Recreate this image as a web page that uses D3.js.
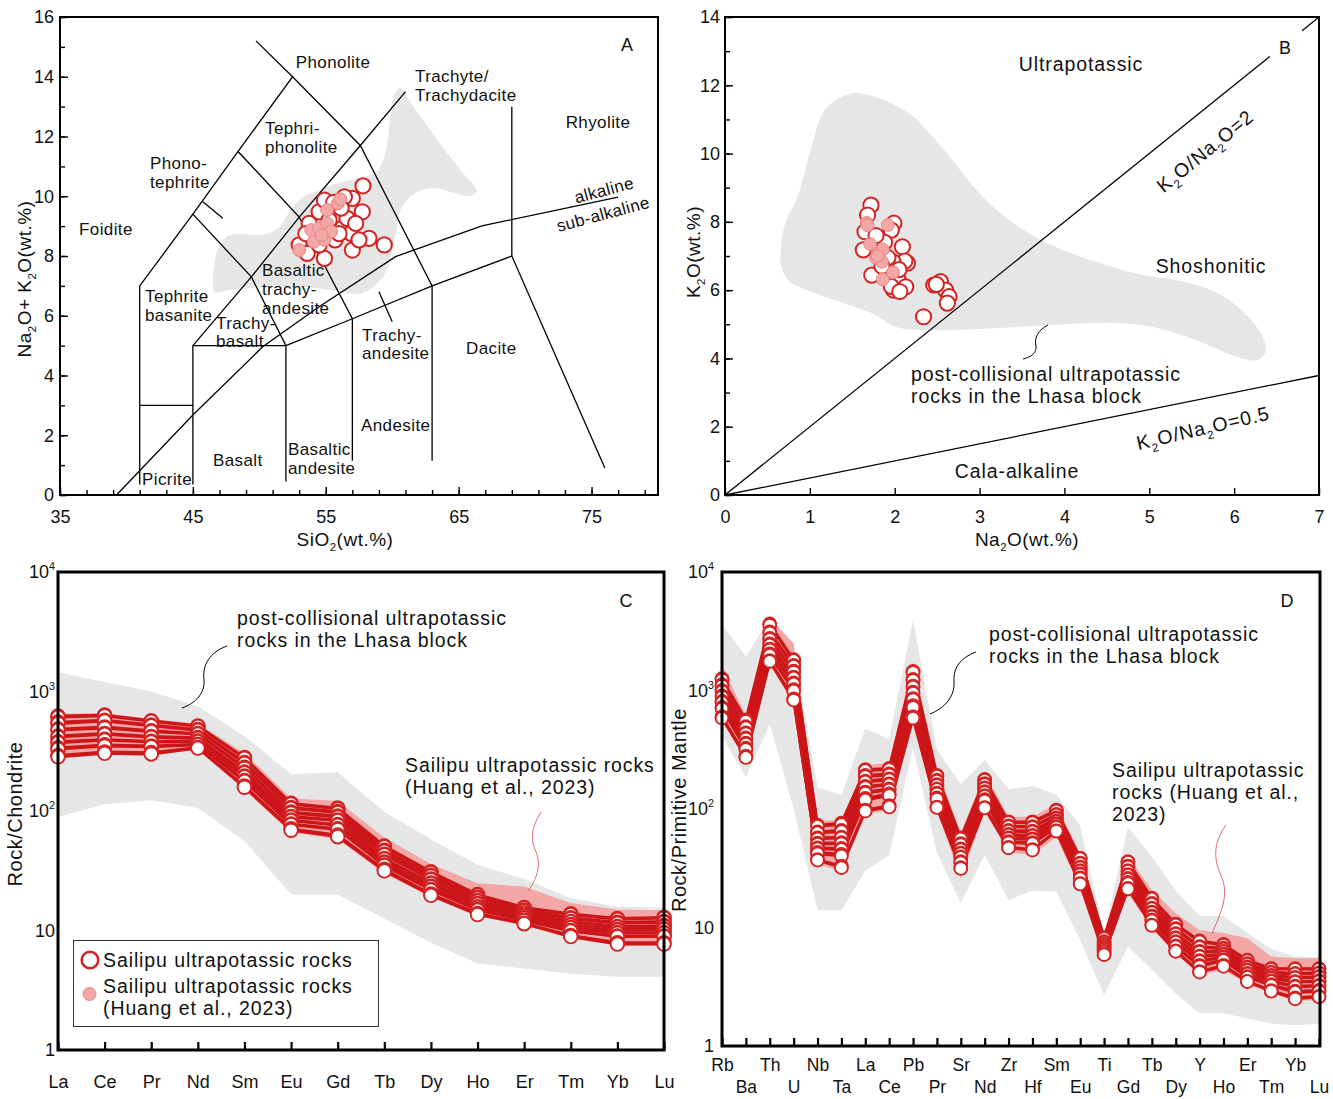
<!DOCTYPE html>
<html>
<head>
<meta charset="utf-8">
<script src="https://cdn.jsdelivr.net/npm/d3@7"></script>
<style>
  body { margin: 0; background: #fff; }
  svg text { font-family: "Liberation Sans", Arial, sans-serif; fill: #111; }
</style>
</head>
<body>
<svg id="fig" width="1333" height="1099"></svg>
<script>
// ---------------- data ----------------
// A: TAS, [SiO2, Na2O+K2O]
const tasSamples = [[57.8,10.35],[57.0,9.93],[56.4,9.98],[57.75,9.48],[54.5,9.48],[53.75,9.09],[53.25,8.26],[53.0,8.37],
  [53.6,8.09],[54.9,7.92],[56.25,8.93],[56.9,8.76],[57.0,8.2],[58.25,8.59],[59.4,8.37],[56.6,9.26],[57.25,9.09],
  [55.25,9.2],[55.7,8.54],[54.2,8.67],[56.15,9.6],[54.9,9.87],[55.6,9.8],[57.5,8.54],[54.5,8.37],[56.0,8.75],[53.5,8.75]];
const tasHuang = [[55.9,9.76],[55.1,9.54],[53.9,8.87],[54.5,8.93],[55.1,9.09],[54.1,8.48],[54.9,8.54],[53.0,8.2],
  [55.4,8.82],[54.7,8.7],[56.1,9.9]];
const tasField = [[60.58,13.62],[61.56,13.02],[62.84,12.22],[64.12,11.45],[65.32,10.78],[66.38,10.18],[65.85,10.01],
  [64.72,10.11],[63.07,10.28],[61.71,10.11],[60.73,9.64],[60.28,8.77],[59.9,7.97],[59.45,7.4],[58.47,6.93],[57.57,6.73],
  [56.07,6.8],[53.81,6.95],[51.93,6.95],[49.67,6.93],[47.79,6.86],[46.66,6.8],[46.51,7.2],[46.66,7.87],[47.04,8.4],
  [47.64,8.67],[48.54,8.74],[49.67,8.7],[50.65,8.75],[51.55,9.0],[52.3,9.5],[53.2,9.95],[54.56,10.21],[55.92,10.44],
  [57.57,10.61],[58.93,10.88],[59.53,11.55],[59.83,12.55],[60.13,13.36]];
const tasLines = [
  [[41,0.35],[41,7],[45,9.4],[48.4,11.5],[52.5,14],[57.6,11.7],[63,7],[63,1.15]],
  [[41,3],[45,3]],
  [[45,0.35],[45,5],[52,5],[52,0.45]],
  [[45,5],[49.4,7.3],[53,9.3],[57.6,11.7],[61,13.5]],
  [[49.4,7.3],[52,5]],
  [[45,9.4],[49.4,7.3]],
  [[48.4,11.5],[53,9.3],[57,5.9],[57,1.15]],
  [[52,5],[57,5.9],[63,7],[69,8],[76,0.9]],
  [[69,8],[69,13]],
  [[52.5,14],[49.75,15.2]],
  [[45.75,9.82],[47.25,9.26]],
  [[59.0,6.8],[60.0,5.8]]
];
const alkLine = [[39.25,0],[45,2.68],[50.25,4.96],[54.5,6.3],[60.25,7.98],[66.75,9.01],[77,9.97]];

// B: [Na2O, K2O]
const kSamples = [[1.72,8.49],[1.68,8.2],[1.65,7.71],[1.63,7.18],[1.73,6.44],[1.99,7.96],[1.96,7.76],[1.81,7.3],
  [1.88,7.4],[2.09,7.27],[2.15,6.79],[2.12,6.85],[1.98,6.83],[2.04,6.3],[2.13,6.1],[1.99,6.0],[1.96,6.11],[2.06,5.96],
  [2.46,6.15],[2.54,6.25],[2.6,6.0],[2.64,5.81],[2.62,5.62],[2.34,5.22],[1.78,7.6],[1.92,6.95],[2.05,6.6],[1.85,6.7],[2.49,6.17]];
const kHuang = [[1.67,7.97],[1.71,7.35],[1.78,6.94],[1.81,7.09],[1.86,7.19],[1.85,6.83],[1.92,7.91],[1.86,6.32],
  [1.98,6.52],[1.68,7.9],[1.8,7.0]];
const kField = [[0.655,7.09],[0.705,7.91],[0.856,8.74],[1.006,10.07],[1.157,11.21],[1.307,11.57],[1.508,11.77],
  [1.759,11.67],[2.01,11.41],[2.21,11.1],[2.41,10.59],[2.66,9.87],[2.96,8.94],[3.26,8.22],[3.62,7.61],[3.97,7.19],
  [4.37,6.83],[4.87,6.47],[5.37,6.27],[5.77,5.96],[6.07,5.45],[6.32,4.72],[6.37,4.21],[6.27,3.95],[6.02,4.06],
  [5.62,4.47],[5.12,4.88],[4.62,5.04],[3.87,4.98],[3.11,4.88],[2.36,4.83],[2.01,4.93],[1.76,5.29],[1.36,5.65],
  [1.006,5.96],[0.755,6.27],[0.666,6.68]];

// C: chondrite-normalised REE
const reeElems = ["La","Ce","Pr","Nd","Sm","Eu","Gd","Tb","Dy","Ho","Er","Tm","Yb","Lu"];
const reeSamples = [
  [625,635,570,515,280,116,106,51,31,20,15.6,13.8,12.6,12.9],
  [610,625,562,510,276,114,104,50,30.5,19.8,15.4,13.6,12.4,12.7],
  [555,575,525,480,255,107,99,47,29,19,14.8,12.8,11.7,11.9],
  [540,565,515,472,250,105,97,46,28.5,18.7,14.6,12.6,11.5,11.7],
  [485,505,470,445,232,98,91,43.5,27,17.8,14,11.9,10.8,11],
  [475,495,462,440,228,96,89,43,26.6,17.6,13.9,11.8,10.7,10.8],
  [425,445,420,412,212,90,84,40,25,16.8,13.4,11.2,10.2,10.3],
  [415,438,414,406,209,89,83,39.5,24.7,16.6,13.3,11.1,10.1,10.2],
  [380,398,383,386,196,84,77,37.5,23.5,15.8,12.8,10.6,9.6,9.6],
  [372,392,377,381,193,83,76,37,23.2,15.6,12.7,10.5,9.5,9.5],
  [338,358,350,362,180,78,71,35.3,22,15,12.2,10,9,9],
  [330,350,344,358,177,77,70,35,21.8,14.8,12.1,9.9,8.9,8.9],
  [292,312,308,340,162,71,63,32.5,20.2,13.9,11.5,9.1,7.9,7.9],
  [284,304,300,336,158,69,61,31.6,19.7,13.6,11.4,8.9,7.7,7.7]
];
const reeHuangHi = [650,660,590,540,305,128,121,60,36,24.9,23.3,17,15,14.8];
const reeHuangLo = [275,295,290,330,150,66,58,30,19,13.2,11,8.6,7.5,7.5];
const reeLhasaHi = [1450,1200,1000,750,425,203,211,98,58,35.5,27,18.7,15.8,15.5];
const reeLhasaLo = [89,114,123,106,56,20,20,12.6,7.9,5.3,4.8,4.35,4.1,4.1];

// D: primitive-mantle-normalised trace elements
const spiderElems = ["Rb","Ba","Th","U","Nb","Ta","La","Ce","Pb","Pr","Sr","Nd","Zr","Hf","Sm","Eu","Ti","Gd","Tb","Dy","Y","Ho","Er","Tm","Yb","Lu"];
const spiderSamples = [
  [1260,565,3650,1820,73,76,215,220,1450,192,57,178,78,78,98,38.5,8.2,36,17.7,10.7,7.7,7.2,5.3,4.5,4.5,4.5],
  [1230,552,3560,1790,71.5,74,211,216,1420,189,56,175,77,76.5,96.5,38,8.1,35.5,17.4,10.5,7.6,7.1,5.25,4.45,4.45,4.45],
  [1120,495,3120,1630,64,66,192,198,1240,175,51,164,72,71,90,35,7.6,33,16,9.8,6.9,6.7,4.95,4.2,4.1,4.15],
  [1095,485,3060,1600,63,64.5,188,194,1215,172,50,161,71,70,89,34.5,7.5,32.5,15.7,9.65,6.8,6.6,4.9,4.15,4.05,4.1],
  [1000,440,2750,1460,57,58,172,180,1090,161,46,151,66,65,84,32.3,7.2,30.2,14.6,8.9,6.3,6.3,4.65,3.95,3.8,3.85],
  [978,432,2700,1430,56,57,169,177,1070,158,45.3,149,65,64,83,31.9,7.15,29.8,14.4,8.8,6.2,6.25,4.6,3.9,3.75,3.8],
  [900,398,2470,1300,51.5,52,155,163,970,148,42.5,140,61,60,79,30.2,6.9,28,13.5,8.2,5.75,5.95,4.4,3.75,3.5,3.55],
  [880,390,2420,1275,50.5,51,152,160,950,146,42,138,60.3,59.2,78,29.8,6.85,27.6,13.3,8.1,5.68,5.9,4.35,3.72,3.46,3.5],
  [810,360,2240,1160,47,46.5,139,148,855,136,39.5,130,57,56,75,28.3,6.6,26,12.5,7.6,5.25,5.65,4.1,3.55,3.2,3.25],
  [792,353,2200,1135,46.2,45.5,136,145,836,134,39,128,56.3,55.2,74.2,27.9,6.55,25.6,12.3,7.5,5.18,5.6,4.06,3.5,3.15,3.2],
  [720,326,2040,1020,43,41.5,123,134,745,124,36,120,53,52,71,26.3,6.3,24,11.6,7.0,4.8,5.35,3.85,3.3,2.9,2.95],
  [700,318,1990,990,42,40.2,119,130,720,121,35.3,117,52,51,70,25.8,6.22,23.5,11.4,6.88,4.7,5.28,3.8,3.25,2.84,2.88],
  [600,280,1790,850,37.5,33,98,107,600,104,32,103,47.5,45.5,65.5,23.5,5.95,21.4,10.5,6.35,4.25,4.8,3.52,2.93,2.55,2.63],
  [585,272,1760,830,37,32,96,104,585,103,31.5,102,47,45,65,23.3,5.9,21.2,10.4,6.3,4.2,4.7,3.5,2.9,2.5,2.6]
];
const spiderHuangHi = [1650,610,4100,2500,80,80,235,245,1750,225,62,200,86,86,110,42,8.7,40,20.7,13.2,9.5,9.0,8.1,5.7,5.5,5.5];
const spiderHuangLo = [560,260,1650,780,34,30,90,98,560,98,25.6,95,43,41,58,21.5,5.6,19.5,9.8,6.0,4.0,4.4,3.3,2.8,2.4,2.45];
const spiderLhasaHi = [3600,1940,4060,2200,152,132,475,390,3950,317,162,260,147,156,132,72.7,9,70,39.5,20.5,12.5,12.5,9,6.6,5.7,5.6];
const spiderLhasaLo = [410,186,520,100,14,14,30,41,330,42.5,16.1,41,17.1,20.4,20,7.85,2.7,6.9,4.4,2.78,1.89,1.89,1.71,1.55,1.5,1.55];

// ---------------- styles ----------------
const RED = "#d42222", LINE_RED = "#cc1619", PINK = "#f4a7a7", PINK_EDGE = "#e78484", GRAY = "#e6e6e6";

const svg = d3.select("#fig");

// text with sub/superscripts; y is the visual centre line
function rich(g, x, y, parts, o = {}) {
  const size = o.size || 17;
  const t = g.append("text")
    .attr("x", x).attr("y", y + 0.35 * size)
    .attr("font-size", size)
    .attr("text-anchor", o.anchor || "start");
  if (o.spacing) t.attr("letter-spacing", o.spacing);
  if (o.rotate) t.attr("transform", `rotate(${o.rotate},${x},${y})`);
  let shift = 0;
  parts.forEach(p => {
    if (typeof p === "string") {
      t.append("tspan").attr("dy", -shift).text(p);
      shift = 0;
    } else if (p.sub) {
      t.append("tspan").attr("font-size", size * 0.6).attr("dy", size * 0.28).text(p.sub);
      shift = size * 0.28;
    } else if (p.sup) {
      t.append("tspan").attr("font-size", size * 0.6).attr("dy", -size * 0.45).text(p.sup);
      shift = -size * 0.45;
    }
  });
  return t;
}

function cleanAxis(g, size) {
  g.select(".domain").remove();
  g.attr("font-size", size || 18);
  g.selectAll(".tick line").attr("stroke-width", 1.4);
}

// ================= Panel A =================
const xA = d3.scaleLinear().domain([35, 80]).range([60, 658]);
const yA = d3.scaleLinear().domain([0, 16]).range([495, 17]);
const gA = svg.append("g");
const lineA = d3.line().x(d => xA(d[0])).y(d => yA(d[1]));

gA.append("path").datum(tasField)
  .attr("d", lineA.curve(d3.curveCatmullRomClosed.alpha(0.5)))
  .attr("fill", GRAY);
lineA.curve(d3.curveLinear);

tasLines.concat([alkLine]).forEach(l => {
  gA.append("path").datum(l).attr("d", lineA)
    .attr("fill", "none").attr("stroke", "#000").attr("stroke-width", 1.3);
});

const aLabels = [
  ["Phonolite", 333, 62, "middle"], ["Trachyte/", 415, 76], ["Trachydacite", 415, 95],
  ["Rhyolite", 598, 122, "middle"], ["Tephri-", 265, 128], ["phonolite", 265, 147],
  ["Phono-", 150, 163], ["tephrite", 150, 182], ["Foidite", 79, 229],
  ["Tephrite", 145, 296], ["basanite", 145, 315],
  ["Basaltic", 262, 270], ["trachy-", 262, 289], ["andesite", 262, 308],
  ["Trachy-", 216, 323], ["basalt", 216, 341],
  ["Trachy-", 362, 335], ["andesite", 362, 353],
  ["Dacite", 466, 348], ["Andesite", 361, 425],
  ["Basaltic", 288, 449], ["andesite", 288, 468],
  ["Basalt", 213, 460], ["Picrite", 142, 479]
];
aLabels.forEach(([s, x, y, a]) => rich(gA, x, y, [s], { size: 17, anchor: a || "start", spacing: 0.4 }));
rich(gA, 604, 190, ["alkaline"], { size: 17, anchor: "middle", rotate: -15, spacing: 0.4 });
rich(gA, 603, 214, ["sub-alkaline"], { size: 17, anchor: "middle", rotate: -15, spacing: 0.4 });
rich(gA, 627, 45, ["A"], { size: 18, anchor: "middle" });

gA.selectAll("circle.s").data(tasSamples).join("circle")
  .attr("cx", d => xA(d[0])).attr("cy", d => yA(d[1])).attr("r", 7.6)
  .attr("fill", "#fff").attr("stroke", RED).attr("stroke-width", 2);
gA.selectAll("circle.h").data(tasHuang).join("circle")
  .attr("cx", d => xA(d[0])).attr("cy", d => yA(d[1])).attr("r", 6.4)
  .attr("fill", PINK).attr("stroke", PINK_EDGE).attr("stroke-width", 1);

gA.append("rect").attr("x", 60).attr("y", 17).attr("width", 598).attr("height", 478)
  .attr("fill", "none").attr("stroke", "#000").attr("stroke-width", 2);
gA.append("g").attr("transform", "translate(0,495)")
  .call(d3.axisBottom(xA).tickValues(d3.range(35, 80, 2)).tickSize(-5).tickFormat(""))
  .call(g => cleanAxis(g));
gA.append("g").attr("transform", "translate(0,495)")
  .call(d3.axisBottom(xA).tickValues([35, 45, 55, 65, 75]).tickSize(-8).tickPadding(15))
  .call(g => cleanAxis(g));
gA.append("g").attr("transform", "translate(60,0)")
  .call(d3.axisLeft(yA).tickValues(d3.range(0, 17, 1)).tickSize(-5).tickFormat(""))
  .call(g => cleanAxis(g));
gA.append("g").attr("transform", "translate(60,0)")
  .call(d3.axisLeft(yA).tickValues(d3.range(0, 17, 2)).tickSize(-8).tickPadding(6))
  .call(g => cleanAxis(g));
rich(gA, 345, 539, ["SiO", { sub: "2" }, "(wt.%)"], { size: 19, anchor: "middle", spacing: 0.5 });
rich(gA, 24, 279, ["Na", { sub: "2" }, "O+ K", { sub: "2" }, "O(wt.%)"], { size: 19, anchor: "middle", rotate: -90, spacing: 0.5 });

// ================= Panel B =================
const xB = d3.scaleLinear().domain([0, 7]).range([725, 1319]);
const yB = d3.scaleLinear().domain([0, 14]).range([495, 17]);
const gB = svg.append("g");
const lineB = d3.line().x(d => xB(d[0])).y(d => yB(d[1]));

gB.append("path").datum(kField)
  .attr("d", d3.line().x(d => xB(d[0])).y(d => yB(d[1])).curve(d3.curveCatmullRomClosed.alpha(0.5)))
  .attr("fill", GRAY);
[[[0, 0], [6.42, 12.84]], [[6.8, 13.6], [7, 14]], [[0, 0], [7, 3.5]]].forEach(l => {
  gB.append("path").datum(l).attr("d", lineB)
    .attr("fill", "none").attr("stroke", "#000").attr("stroke-width", 1.3);
});

const bOpt = { size: 19.5, spacing: 0.9 };
rich(gB, 1081, 64, ["Ultrapotassic"], { ...bOpt, anchor: "middle" });
rich(gB, 1211, 266, ["Shoshonitic"], { ...bOpt, anchor: "middle" });
rich(gB, 1017, 471, ["Cala-alkaline"], { ...bOpt, anchor: "middle" });
rich(gB, 911, 374, ["post-collisional ultrapotassic"], bOpt);
rich(gB, 911, 396, ["rocks in the Lhasa block"], bOpt);
rich(gB, 1205, 151, ["K", { sub: "2" }, "O/Na", { sub: "2" }, "O=2"], { ...bOpt, anchor: "middle", rotate: -39 });
rich(gB, 1203, 428, ["K", { sub: "2" }, "O/Na", { sub: "2" }, "O=0.5"], { ...bOpt, anchor: "middle", rotate: -13 });
rich(gB, 1285, 48, ["B"], { size: 18, anchor: "middle" });
gB.append("path")
  .attr("d", "M1048,325 C1038,330 1034,338 1036,346 C1037,353 1031,357 1023,359")
  .attr("fill", "none").attr("stroke", "#000").attr("stroke-width", 1);

gB.selectAll("circle.s").data(kSamples).join("circle")
  .attr("cx", d => xB(d[0])).attr("cy", d => yB(d[1])).attr("r", 7.6)
  .attr("fill", "#fff").attr("stroke", RED).attr("stroke-width", 2);
gB.selectAll("circle.h").data(kHuang).join("circle")
  .attr("cx", d => xB(d[0])).attr("cy", d => yB(d[1])).attr("r", 6.4)
  .attr("fill", PINK).attr("stroke", PINK_EDGE).attr("stroke-width", 1);

gB.append("rect").attr("x", 725).attr("y", 17).attr("width", 594).attr("height", 478)
  .attr("fill", "none").attr("stroke", "#000").attr("stroke-width", 2);
gB.append("g").attr("transform", "translate(0,495)")
  .call(d3.axisBottom(xB).tickValues(d3.range(0, 8)).tickFormat(d3.format("d")).tickSize(-7).tickPadding(15))
  .call(g => cleanAxis(g));
gB.append("g").attr("transform", "translate(725,0)")
  .call(d3.axisLeft(yB).tickValues(d3.range(0, 15, 1)).tickSize(-5).tickFormat(""))
  .call(g => cleanAxis(g));
gB.append("g").attr("transform", "translate(725,0)")
  .call(d3.axisLeft(yB).tickValues(d3.range(0, 15, 2)).tickFormat(d3.format("d")).tickSize(-8).tickPadding(5))
  .call(g => cleanAxis(g));
rich(gB, 1027, 539, ["Na", { sub: "2" }, "O(wt.%)"], { size: 19, anchor: "middle", spacing: 0.5 });
rich(gB, 693, 252, ["K", { sub: "2" }, "O(wt.%)"], { size: 19, anchor: "middle", rotate: -90, spacing: 0.5 });

// ================= spider helper (C, D) =================
function spiderPanel(g, elems, samples, huangHi, huangLo, lhasaHi, lhasaLo, x, y, r) {
  const area = d3.area().x((d, i) => x(elems[i]));
  g.append("path").datum(lhasaHi.map((v, i) => [lhasaLo[i], v]))
    .attr("d", area.y0(d => y(d[0])).y1(d => y(d[1]))).attr("fill", GRAY);
  g.append("path").datum(huangHi.map((v, i) => [huangLo[i], v]))
    .attr("d", area.y0(d => y(d[0])).y1(d => y(d[1]))).attr("fill", PINK);
  const line = d3.line().x((d, i) => x(elems[i])).y(d => y(d));
  g.selectAll("path.smp").data(samples).join("path").attr("class", "smp")
    .attr("d", line).attr("fill", "none").attr("stroke", LINE_RED).attr("stroke-width", 2.8);
  samples.forEach(s => {
    g.append("g").selectAll("circle").data(s).join("circle")
      .attr("cx", (d, i) => x(elems[i])).attr("cy", d => y(d)).attr("r", r)
      .attr("fill", "#fff").attr("stroke", RED).attr("stroke-width", 1.9);
  });
}

function decadeLabels(g, y, xRight) {
  [[1, "1"], [10, "10"], [100, "10", "2"], [1000, "10", "3"], [10000, "10", "4"]].forEach(([v, b, e]) => {
    const parts = e ? [b, { sup: e }] : [b];
    rich(g, xRight, y(v), parts, { size: 18, anchor: "end" });
  });
}

// ================= Panel C =================
const xC = d3.scalePoint().domain(reeElems).range([58, 664]);
const yC = d3.scaleLog().domain([1, 1e4]).range([1050, 572]);
const gC = svg.append("g");
spiderPanel(gC, reeElems, reeSamples, reeHuangHi, reeHuangLo, reeLhasaHi, reeLhasaLo, xC, yC, 6.8);
gC.append("rect").attr("x", 58).attr("y", 572).attr("width", 606).attr("height", 478)
  .attr("fill", "none").attr("stroke", "#000").attr("stroke-width", 3);
gC.append("g").attr("transform", "translate(0,1050)")
  .call(d3.axisBottom(xC).tickSize(-8).tickPadding(25))
  .call(g => { cleanAxis(g); g.selectAll(".tick line").attr("stroke-width", 2.2); });
decadeLabels(gC, yC, 55);
rich(gC, 15, 814, ["Rock/Chondrite"], { size: 20, anchor: "middle", rotate: -90, spacing: 0.5 });
rich(gC, 626, 601, ["C"], { size: 18, anchor: "middle" });
const cOpt = { size: 19.5, spacing: 0.9 };
rich(gC, 237, 618, ["post-collisional ultrapotassic"], cOpt);
rich(gC, 237, 640, ["rocks in the Lhasa block"], cOpt);
rich(gC, 405, 765, ["Sailipu ultrapotassic rocks"], cOpt);
rich(gC, 405, 787, ["(Huang et al., 2023)"], cOpt);
gC.append("path").attr("d", "M227,646 C210,652 202,665 204,680 C205,693 196,703 182,708")
  .attr("fill", "none").attr("stroke", "#000").attr("stroke-width", 1);
gC.append("path").attr("d", "M541,812 C530,830 531,841 536,852 C542,866 536,880 528,891")
  .attr("fill", "none").attr("stroke", "#e06a6a").attr("stroke-width", 1);
// legend
const lg = gC.append("g");
lg.append("rect").attr("x", 73.5).attr("y", 940.5).attr("width", 305).attr("height", 86)
  .attr("fill", "#fff").attr("stroke", "#333").attr("stroke-width", 1);
lg.append("circle").attr("cx", 90).attr("cy", 960).attr("r", 8.3)
  .attr("fill", "#fff").attr("stroke", RED).attr("stroke-width", 2.6);
lg.append("circle").attr("cx", 89.5).attr("cy", 994).attr("r", 6.5)
  .attr("fill", PINK).attr("stroke", PINK_EDGE).attr("stroke-width", 1);
rich(lg, 103, 960, ["Sailipu ultrapotassic rocks"], cOpt);
rich(lg, 103, 986, ["Sailipu ultrapotassic rocks"], cOpt);
rich(lg, 103, 1008, ["(Huang et al., 2023)"], cOpt);

// ================= Panel D =================
const xD = d3.scalePoint().domain(spiderElems).range([722, 1319]);
const yD = d3.scaleLog().domain([1, 1e4]).range([1046, 572]);
const gD = svg.append("g");
spiderPanel(gD, spiderElems, spiderSamples, spiderHuangHi, spiderHuangLo, spiderLhasaHi, spiderLhasaLo, xD, yD, 6.4);
gD.append("rect").attr("x", 722).attr("y", 572).attr("width", 598).attr("height", 474)
  .attr("fill", "none").attr("stroke", "#000").attr("stroke-width", 3);
gD.append("g").attr("transform", "translate(0,1046)")
  .call(d3.axisBottom(xD).tickSize(-8).tickPadding(13))
  .call(g => {
    cleanAxis(g, 17.5);
    g.selectAll(".tick line").attr("stroke-width", 2.2);
    g.selectAll(".tick text").attr("y", (d, i) => i % 2 ? 35 : 13);
  });
decadeLabels(gD, yD, 714);
rich(gD, 679, 810, ["Rock/Primitive Mantle"], { size: 20, anchor: "middle", rotate: -90, spacing: 0.5 });
rich(gD, 1287, 601, ["D"], { size: 18, anchor: "middle" });
rich(gD, 989, 634, ["post-collisional ultrapotassic"], cOpt);
rich(gD, 989, 656, ["rocks in the Lhasa block"], cOpt);
rich(gD, 1112, 770, ["Sailipu ultrapotassic"], cOpt);
rich(gD, 1112, 792, ["rocks (Huang et al.,"], cOpt);
rich(gD, 1112, 814, ["2023)"], cOpt);
gD.append("path").attr("d", "M976,652 C960,658 953,668 954,682 C955,696 945,708 930,714")
  .attr("fill", "none").attr("stroke", "#000").attr("stroke-width", 1);
gD.append("path").attr("d", "M1226,825 C1212,845 1214,860 1222,878 C1230,898 1218,918 1212,934")
  .attr("fill", "none").attr("stroke", "#e06a6a").attr("stroke-width", 1);
</script>
</body>
</html>
